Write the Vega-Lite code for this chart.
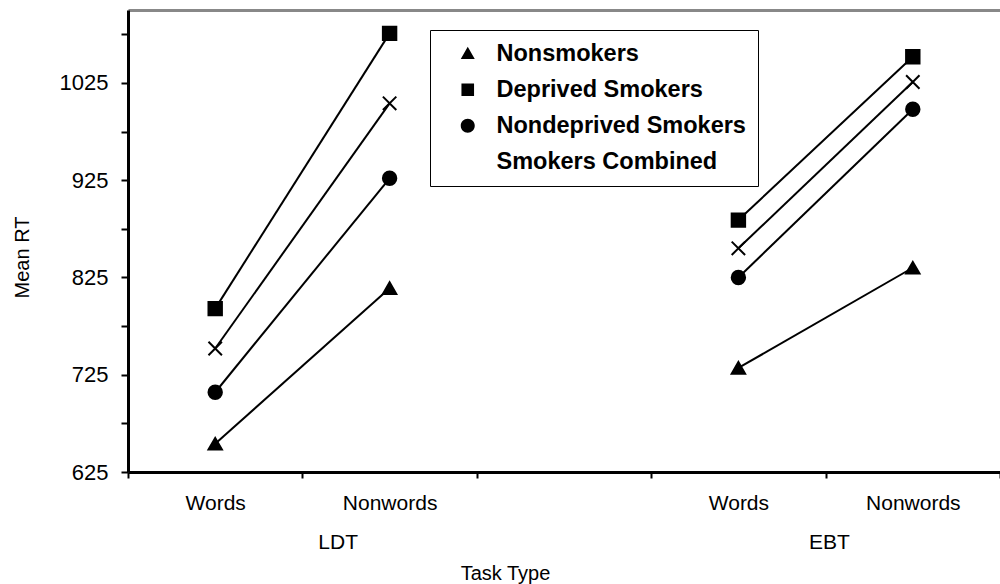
{
  "$schema": "https://vega.github.io/schema/vega-lite/v6.json",
  "width": 872,
  "height": 462,
  "autosize": {"type": "none"},
  "padding": {"left": 128, "top": 10, "right": 0, "bottom": 112},
  "background": "white",
  "config": {
    "view": {"stroke": null},
    "axis": {"labelFont": "Liberation Sans", "titleFont": "Liberation Sans", "labelColor": "black", "titleColor": "black", "titleFontWeight": "normal", "grid": false},
    "legend": {"labelFont": "Liberation Sans"}
  },
  "data": {
    "values": [
      {"series": "Nonsmokers", "task": "LDT", "cond": "LDT Words", "rt": 654},
      {"series": "Nonsmokers", "task": "LDT", "cond": "LDT Nonwords", "rt": 814},
      {"series": "Nonsmokers", "task": "EBT", "cond": "EBT Words", "rt": 732},
      {"series": "Nonsmokers", "task": "EBT", "cond": "EBT Nonwords", "rt": 835},
      {"series": "Deprived Smokers", "task": "LDT", "cond": "LDT Words", "rt": 793},
      {"series": "Deprived Smokers", "task": "LDT", "cond": "LDT Nonwords", "rt": 1076},
      {"series": "Deprived Smokers", "task": "EBT", "cond": "EBT Words", "rt": 884},
      {"series": "Deprived Smokers", "task": "EBT", "cond": "EBT Nonwords", "rt": 1052},
      {"series": "Nondeprived Smokers", "task": "LDT", "cond": "LDT Words", "rt": 707},
      {"series": "Nondeprived Smokers", "task": "LDT", "cond": "LDT Nonwords", "rt": 927},
      {"series": "Nondeprived Smokers", "task": "EBT", "cond": "EBT Words", "rt": 825},
      {"series": "Nondeprived Smokers", "task": "EBT", "cond": "EBT Nonwords", "rt": 998},
      {"series": "Smokers Combined", "task": "LDT", "cond": "LDT Words", "rt": 752},
      {"series": "Smokers Combined", "task": "LDT", "cond": "LDT Nonwords", "rt": 1004},
      {"series": "Smokers Combined", "task": "EBT", "cond": "EBT Words", "rt": 855},
      {"series": "Smokers Combined", "task": "EBT", "cond": "EBT Nonwords", "rt": 1026}
    ]
  },
  "layer": [
    {
      "mark": {"type": "line", "color": "black", "strokeWidth": 2},
      "encoding": {
        "x": {
          "field": "cond", "type": "nominal", "bandPosition": 0.5,
          "scale": {"type": "band", "domain": ["LDT Words", "LDT Nonwords", "gap", "EBT Words", "EBT Nonwords"], "paddingInner": 0, "paddingOuter": 0},
          "axis": {
            "orient": "bottom", "title": null, "tickBand": "extent",
            "labelExpr": "(datum.value == 'LDT Words' || datum.value == 'EBT Words') ? 'Words' : ((datum.value == 'LDT Nonwords' || datum.value == 'EBT Nonwords') ? 'Nonwords' : '')",
            "labelAngle": 0, "labelFontSize": 21, "labelPadding": 14,
            "domainColor": "black", "domainWidth": 3, "tickColor": "black", "tickWidth": 2, "tickSize": 6
          }
        },
        "y": {
          "field": "rt", "type": "quantitative",
          "scale": {"domain": [625, 1100], "nice": false, "zero": false},
          "axis": {
            "title": "Mean RT", "titleFontSize": 20, "titlePadding": 27, "titleY": 247,
            "values": [625, 675, 725, 775, 825, 875, 925, 975, 1025, 1075],
            "format": "d",
            "labelExpr": "(datum.value - 625) % 100 == 0 ? datum.label : ''",
            "labelFontSize": 22, "labelPadding": 13, "tickSize": 7, "tickWidth": 2, "tickColor": "black",
            "domainColor": "black", "domainWidth": 3
          }
        },
        "detail": {"field": "task", "type": "nominal"},
        "color": {"field": "series", "type": "nominal", "scale": {"range": ["black"]}, "legend": null}
      }
    },
    {
      "mark": {"type": "point", "filled": true, "size": 180, "stroke": "black", "strokeWidth": 2, "opacity": 1},
      "encoding": {
        "x": {
          "field": "cond", "type": "nominal", "bandPosition": 0.5,
          "axis": {
            "orient": "bottom", "title": "Task Type", "titleFontSize": 20, "titlePadding": 11, "titleX": 377,
            "values": ["LDT Words", "EBT Words"],
            "labelExpr": "datum.value == 'LDT Words' ? 'LDT' : 'EBT'",
            "labelOffset": {"condition": {"test": "datum.value == 'LDT Words'", "value": 123}, "value": 91},
            "labelAngle": 0, "labelFontSize": 21, "labelPadding": 59,
            "domain": false, "ticks": false, "tickSize": 0
          }
        },
        "y": {"field": "rt", "type": "quantitative"},
        "color": {"value": "black"},
        "shape": {
          "field": "series", "type": "nominal",
          "scale": {
            "domain": ["Nonsmokers", "Deprived Smokers", "Nondeprived Smokers", "Smokers Combined"],
            "range": ["triangle-up", "square", "circle", "M-1,-1L1,1M-1,1L1,-1"]
          },
          "legend": null
        }
      }
    },
    {
      "mark": {"type": "point", "filled": true, "size": 196, "stroke": "black", "strokeWidth": 2, "opacity": 0},
      "encoding": {
        "x": {
          "field": "cond", "type": "nominal", "bandPosition": 0.5,
          "axis": {
            "orient": "top", "title": null, "labels": false, "ticks": false,
            "domainColor": "#888888", "domainWidth": 3
          }
        },
        "y": {"field": "rt", "type": "quantitative"},
        "color": {"value": "black"},
        "shape": {
          "field": "series", "type": "nominal",
          "scale": {
            "domain": ["Nonsmokers", "Deprived Smokers", "Nondeprived Smokers", "Smokers Combined"],
            "range": [
              "M-4,0H4M0,-1L1,0.75H-1Z",
              "M-4,0H4M-0.9,-0.9H0.9V0.9H-0.9Z",
              "M-4,0H4M-1,0A1,1 0 1,0 1,0A1,1 0 1,0 -1,0Z",
              "M-4,0H4M-0.9,-0.9L0.9,0.9M-0.9,0.9L0.9,-0.9"
            ]
          },
          "legend": {
            "title": null, "orient": "none", "legendX": 302, "legendY": 20,
            "strokeColor": "black", "padding": 12,
            "symbolSize": 196, "symbolOffset": 14, "labelOffset": 17,
            "symbolFillColor": "black", "symbolStrokeColor": "black", "symbolStrokeWidth": 2, "symbolOpacity": 1,
            "labelFontSize": 23.5, "labelFontWeight": "bold", "labelColor": "black",
            "rowPadding": 11, "labelLimit": 400,
            "encode": {"symbols": {"update": {"stroke": {"value": "black"}, "strokeWidth": {"value": 2}, "fill": {"value": "black"}, "opacity": {"value": 1}}}}
          }
        }
      }
    }
  ],
  "resolve": {"axis": {"x": "independent"}, "scale": {"shape": "independent"}}
}
